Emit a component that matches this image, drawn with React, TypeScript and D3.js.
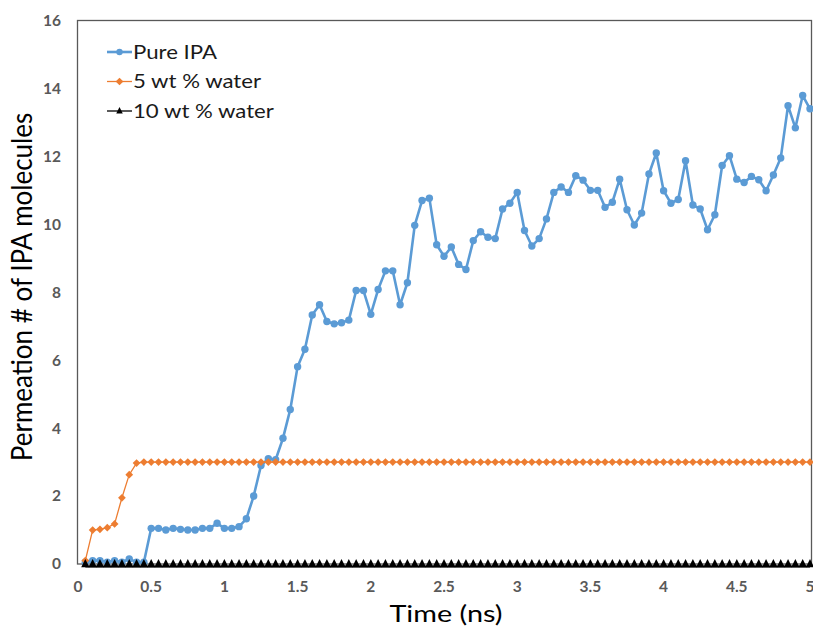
import React from "react";
import * as d3 from "d3";

// sampled every 0.05 ns, first sample at 0.05 ns
const timeStep = 0.05;

const pureIPA = [
  0.05, 0.1, 0.1, 0.05, 0.1, 0.05, 0.15, 0.05, 0.05,
  1.05, 1.05, 1.0, 1.05, 1.02, 1.0, 1.0, 1.05, 1.05, 1.2,
  1.05, 1.05, 1.1, 1.33, 2.0, 2.9, 3.1, 3.07, 3.7, 4.55,
  5.81, 6.32, 7.33, 7.63, 7.14, 7.07, 7.1, 7.18, 8.05, 8.05,
  7.35, 8.08, 8.63, 8.63, 7.63, 8.28, 9.97, 10.7, 10.77, 9.4,
  9.06, 9.33, 8.82, 8.67, 9.52, 9.78, 9.62, 9.58, 10.45, 10.62,
  10.94, 9.82, 9.36, 9.58, 10.16, 10.94, 11.1, 10.94, 11.43, 11.3,
  11.0, 11.0, 10.5, 10.65, 11.33, 10.43, 9.98, 10.33, 11.48, 12.1,
  10.99, 10.62, 10.73, 11.87, 10.57, 10.45, 9.84, 10.28, 11.73, 12.02,
  11.33, 11.23, 11.41, 11.31, 10.99, 11.45, 11.95, 13.49, 12.84, 13.79,
  13.4,
];

const water5 = [
  0.1, 1.0, 1.02, 1.07, 1.18, 1.95, 2.63, 2.97, 3,
  3, 3, 3, 3, 3, 3, 3, 3, 3, 3,
  3, 3, 3, 3, 3, 3, 3, 3, 3, 3,
  3, 3, 3, 3, 3, 3, 3, 3, 3, 3,
  3, 3, 3, 3, 3, 3, 3, 3, 3, 3,
  3, 3, 3, 3, 3, 3, 3, 3, 3, 3,
  3, 3, 3, 3, 3, 3, 3, 3, 3, 3,
  3, 3, 3, 3, 3, 3, 3, 3, 3, 3,
  3, 3, 3, 3, 3, 3, 3, 3, 3, 3,
  3, 3, 3, 3, 3, 3, 3, 3, 3, 3,
  3,
];

const water10 = [
  0, 0, 0, 0, 0, 0, 0, 0, 0,
  0, 0, 0, 0, 0, 0, 0, 0, 0, 0,
  0, 0, 0, 0, 0, 0, 0, 0, 0, 0,
  0, 0, 0, 0, 0, 0, 0, 0, 0, 0,
  0, 0, 0, 0, 0, 0, 0, 0, 0, 0,
  0, 0, 0, 0, 0, 0, 0, 0, 0, 0,
  0, 0, 0, 0, 0, 0, 0, 0, 0, 0,
  0, 0, 0, 0, 0, 0, 0, 0, 0, 0,
  0, 0, 0, 0, 0, 0, 0, 0, 0, 0,
  0, 0, 0, 0, 0, 0, 0, 0, 0, 0,
  0,
];

const xTicks = [0, 0.5, 1, 1.5, 2, 2.5, 3, 3.5, 4, 4.5, 5];
const yTicks = [0, 2, 4, 6, 8, 10, 12, 14, 16];
const seriesNames = ["Pure IPA", "5 wt % water", "10 wt % water"];
const colors = ["#5B9BD5", "#ED7D31", "#000000"];

const width = 813;
const height = 627;
const font = "Lato, 'Open Sans', sans-serif";
// the source picture is a bit stretched sideways, text too
const stretch = 1.2;

const x = d3.scaleLinear().domain([0, 5]).range([78, 810]);
const y = d3.scaleLinear().domain([0, 16]).range([564, 20.5]);

const toPoints = (vals: number[]) =>
  vals.map((v, i) => [(i + 1) * timeStep, v] as [number, number]);

const line = d3
  .line<[number, number]>()
  .x((d) => x(d[0]))
  .y((d) => y(d[1]));

const diamond = d3.symbol(d3.symbolSquare, 30)()!;
// excel-style triangle, a bit taller than wide
const triangle = "M0,-5L4.1,3.2L-4.1,3.2Z";

export default function App() {
  const blue = toPoints(pureIPA);
  const orange = toPoints(water5);
  const black = toPoints(water10);

  return (
    <div style={{ position: "fixed", left: 0, top: 0, width, height, overflow: "hidden", background: "#fff" }}>
      <svg width={width} height={height} style={{ display: "block" }}>
        {/* frame */}
        <rect x={77.5} y={20.5} width={734} height={543.5} fill="none" stroke="#595959" strokeWidth={1.3} />

        {/* y tick labels */}
        {yTicks.map((t) => (
          <text key={t} x={61} y={y(t)} dy="0.35em" textAnchor="end" fontFamily={font}
            fontWeight="bold" fontSize={15.5} fill="#595959">{t}</text>
        ))}
        {/* x tick labels */}
        {xTicks.map((t) => (
          <text key={t} x={x(t)} y={592} textAnchor="middle" fontFamily={font}
            fontWeight="bold" fontSize={15.5} fill="#595959">{t}</text>
        ))}

        {/* series: pure IPA */}
        <path d={line(blue)!} fill="none" stroke={colors[0]} strokeWidth={2.6} strokeLinejoin="round" />
        {blue.map((d, i) => (
          <circle key={i} cx={x(d[0])} cy={y(d[1])} r={3.7} fill={colors[0]} />
        ))}

        {/* series: 5 wt % water */}
        <path d={line(orange)!} fill="none" stroke={colors[1]} strokeWidth={1.3} />
        {orange.map((d, i) => (
          <path key={i} d={diamond} transform={`translate(${x(d[0])},${y(d[1])}) rotate(45)`} fill={colors[1]} />
        ))}

        {/* series: 10 wt % water */}
        <path d={line(black)!} fill="none" stroke={colors[2]} strokeWidth={1.8} transform="translate(0,2.5)" />
        {black.map((d, i) => (
          <path key={i} d={triangle} transform={`translate(${x(d[0])},${y(d[1])})`} fill={colors[2]} />
        ))}

        {/* legend */}
        {seriesNames.map((name, i) => {
          const ly = 52 + i * 29.5;
          return (
            <g key={name}>
              <line x1={107} x2={132} y1={ly} y2={ly} stroke={colors[i]} strokeWidth={i === 0 ? 2.6 : 1.3} />
              {i === 0 && <circle cx={119.5} cy={ly} r={3.2} fill={colors[0]} />}
              {i === 1 && <path d={diamond} transform={`translate(119.5,${ly}) rotate(45)`} fill={colors[1]} />}
              {i === 2 && <path d={triangle} transform={`translate(119.5,${ly}) scale(0.8)`} fill={colors[2]} />}
              <text transform={`translate(133,${ly + 6.8}) scale(${stretch},1)`} fontFamily={font}
                fontSize={18.5} fill="#1a1a1a">{name}</text>
            </g>
          );
        })}

        {/* axis titles */}
        <text transform={`translate(446,622) scale(${stretch},1)`} textAnchor="middle" fontFamily={font}
          fontSize={24} fill="#000">Time (ns)</text>
        <text transform="translate(32,287) scale(1.1,1) rotate(-90)" textAnchor="middle" fontFamily={font}
          fontSize={26} fill="#000">Permeation # of IPA molecules</text>
      </svg>
    </div>
  );
}
